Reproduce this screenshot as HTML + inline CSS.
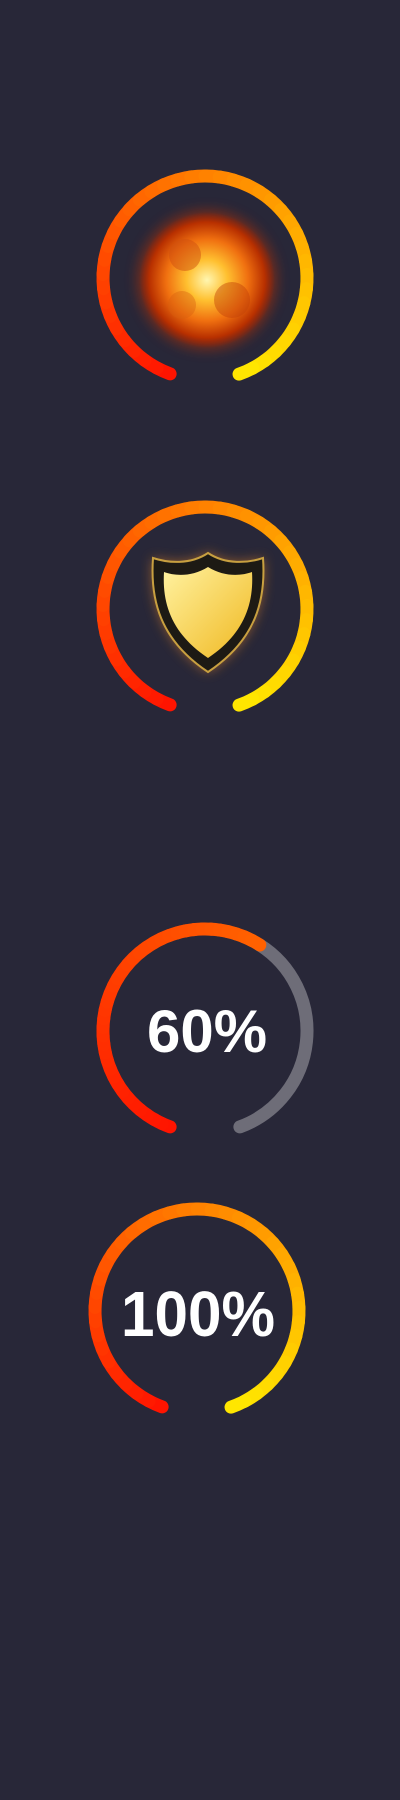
<!DOCTYPE html>
<html><head><meta charset="utf-8"><style>
html,body{margin:0;padding:0;background:#282738;width:400px;height:1800px;overflow:hidden}
svg{display:block}
text{font-family:"Liberation Sans",sans-serif;font-weight:bold;fill:#fff}
</style></head><body>
<svg id="chart" width="400" height="1800" viewBox="0 0 400 1800">
<defs>
<radialGradient id="fire" cx="50%" cy="50%" r="50%">
<stop offset="0" stop-color="#fff6b0"/><stop offset="0.3" stop-color="#ffc030"/><stop offset="0.6" stop-color="#f07010"/><stop offset="0.85" stop-color="#b83000"/><stop offset="1" stop-color="#a02000" stop-opacity="0"/>
</radialGradient>
<linearGradient id="shieldg" x1="0" y1="0" x2="1" y2="1"><stop offset="0" stop-color="#fff2a0"/><stop offset="1" stop-color="#f0b820"/></linearGradient>
<filter id="glow"><feGaussianBlur stdDeviation="6"/></filter>
</defs>
<g id="rings"></g>
<g>
<circle cx="207" cy="280" r="70" fill="#c03000" opacity="0.5" filter="url(#glow)"/>
<circle cx="207" cy="280" r="68" fill="url(#fire)"/>
<circle cx="185" cy="255" r="16" fill="#d05010" opacity="0.5"/>
<circle cx="232" cy="300" r="18" fill="#c04008" opacity="0.45"/>
<circle cx="182" cy="305" r="14" fill="#d86010" opacity="0.4"/>
</g>
<g>
<path d="M208 553 C190 565 168 563 153 558 C150 600 160 640 208 672 C256 640 266 600 263 558 C248 563 226 565 208 553Z" fill="#e08020" opacity="0.6" filter="url(#glow)"/>
<path d="M208 553 C190 565 168 563 153 558 C150 600 160 640 208 672 C256 640 266 600 263 558 C248 563 226 565 208 553Z" fill="#1d1a14" stroke="#c8a040" stroke-width="2"/>
<path d="M208 567 C192 577 175 576 164 572 C162 604 172 634 208 658 C244 634 254 604 252 572 C241 576 224 577 208 567Z" fill="url(#shieldg)"/>
</g>
<text x="207" y="1052" font-size="60" text-anchor="middle">60%</text>
<text x="198" y="1336" font-size="64" text-anchor="middle" textLength="154" lengthAdjust="spacingAndGlyphs">100%</text>
</svg>
<script>
const ringNames = ['ring-fireball','ring-shield','ring-60','ring-100'];
const progressValues = [100, 100, 60, 100];
const centers = [[205,278],[205,609],[205,1031],[197,1311]];
const R = 102, SW = 13, START = 200, SPAN = 320;
const g = document.getElementById('rings');
function col(t){
  let r,gg,b=0;
  if(t<0.5){r=255;gg=Math.round(20+ (130-20)*t/0.5);} else {r=255;gg=Math.round(130+(235-130)*(t-0.5)/0.5);}
  return `rgb(${r},${gg},${b})`;
}
function pt(cx,cy,a){const rad=(a-90)*Math.PI/180;return [cx+R*Math.cos(rad),cy+R*Math.sin(rad)];}
function seg(cx,cy,a0,a1,color,name){
  const p0=pt(cx,cy,a0),p1=pt(cx,cy,a1);
  const p=document.createElementNS('http://www.w3.org/2000/svg','path');
  p.setAttribute('d',`M${p0[0]} ${p0[1]} A${R} ${R} 0 0 1 ${p1[0]} ${p1[1]}`);
  p.setAttribute('stroke',color);p.setAttribute('stroke-width',SW);p.setAttribute('fill','none');p.setAttribute('stroke-linecap','round');
  
  
  g.appendChild(p);
}
progressValues.forEach((v,i)=>{
  const [cx,cy]=centers[i];
  const N=40, filled=SPAN*v/100;
  if(v<100) seg(cx,cy,START+filled,START+SPAN,'#6e6d78',ringNames[i]+'-track');
  for(let k=0;k<N;k++){
    const a0=START+filled*k/N, a1=START+filled*(k+1)/N;
    const t=(a0-START)/SPAN;
    seg(cx,cy,a0,a1+0.5,col(v<100?t*0.6:t),ringNames[i]+'-segment');
  }
});
</script>
</body></html>
